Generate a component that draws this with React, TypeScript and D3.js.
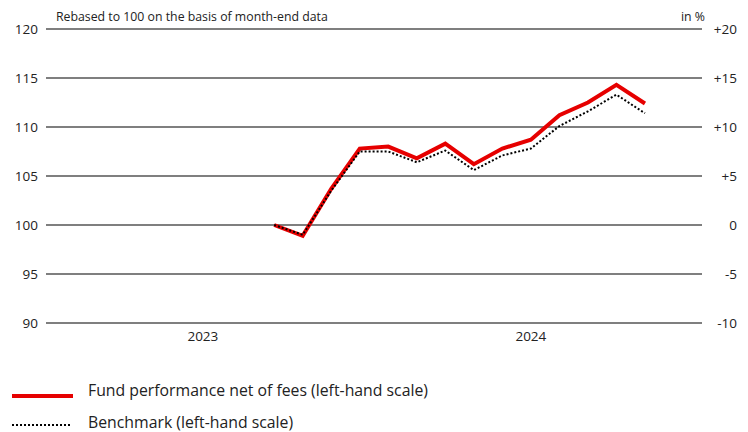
import React from "react";
import * as d3 from "d3";

const months: string[] = [];
for (const y of [2023, 2024]) for (let m = 1; m <= 12; m++) months.push(`${y}-${String(m).padStart(2, "0")}`);

const dataMonths = ["2023-09","2023-10","2023-11","2023-12","2024-01","2024-02","2024-03","2024-04","2024-05","2024-06","2024-07","2024-08","2024-09","2024-10"];
const fund = [100, 98.9, 103.7, 107.8, 108.0, 106.8, 108.3, 106.2, 107.8, 108.7, 111.2, 112.5, 114.3, 112.4];
const benchmark = [100, 99.0, 103.5, 107.5, 107.5, 106.4, 107.6, 105.6, 107.1, 107.8, 110.1, 111.6, 113.3, 111.4];

const leftTicks = [90, 95, 100, 105, 110, 115, 120];
const rightTickLabels = ["-10", "-5", "0", "+5", "+10", "+15", "+20"];
const yearLabels = [
  { label: "2023", from: "2023-01", to: "2023-12" },
  { label: "2024", from: "2023-12", to: "2024-12" },
];

const W = 748, H = 432;
const FONT = "'Open Sans', sans-serif";

export default function App() {
  const x = d3.scalePoint<string>().domain(months).range([46, 702]);
  const y = d3.scaleLinear().domain([90, 120]).range([323, 29]);
  const line = d3
    .line<number>()
    .x((_, i) => x(dataMonths[i]) as number)
    .y((d) => y(d));

  return (
    <svg width={W} height={H} style={{ position: "absolute", left: 0, top: 0 }} fontFamily={FONT}>
      <rect width={W} height={H} fill="#fff" />
      {leftTicks.map((t) => (
        <line key={t} x1={46} x2={702} y1={y(t)} y2={y(t)} stroke="#555" strokeWidth={1.3} />
      ))}
      {leftTicks.map((t) => (
        <text key={"l" + t} x={38} y={y(t)} dy="0.35em" textAnchor="end" fontSize={13.5} fill="#222">
          {t}
        </text>
      ))}
      {leftTicks.map((t, i) => (
        <text key={"r" + t} x={737} y={y(t)} dy="0.35em" textAnchor="end" fontSize={13.5} fill="#222">
          {rightTickLabels[i]}
        </text>
      ))}
      <text x={56} y={21} fontSize={12.3} fill="#222">Rebased to 100 on the basis of month-end data</text>
      <text x={705} y={21} fontSize={12.3} textAnchor="end" fill="#222">in %</text>
      {yearLabels.map((yl) => (
        <text
          key={yl.label}
          x={((x(yl.from) as number) + (x(yl.to) as number)) / 2}
          y={341}
          textAnchor="middle"
          fontSize={13.5}
          fill="#222"
        >
          {yl.label}
        </text>
      ))}
      <path d={line(fund) || ""} fill="none" stroke="#e60000" strokeWidth={4} strokeLinejoin="miter" />
      <path d={line(benchmark) || ""} fill="none" stroke="#000" strokeWidth={2} strokeDasharray="2,2" />
      <line x1={12} x2={73} y1={396} y2={396} stroke="#e60000" strokeWidth={4} />
      <text x={88} y={396} fontSize={15.8} fill="#222">Fund performance net of fees (left-hand scale)</text>
      <line x1={12} x2={71} y1={425} y2={425} stroke="#000" strokeWidth={2} strokeDasharray="2,2" />
      <text x={88} y={428} fontSize={15.8} fill="#222">Benchmark (left-hand scale)</text>
    </svg>
  );
}
